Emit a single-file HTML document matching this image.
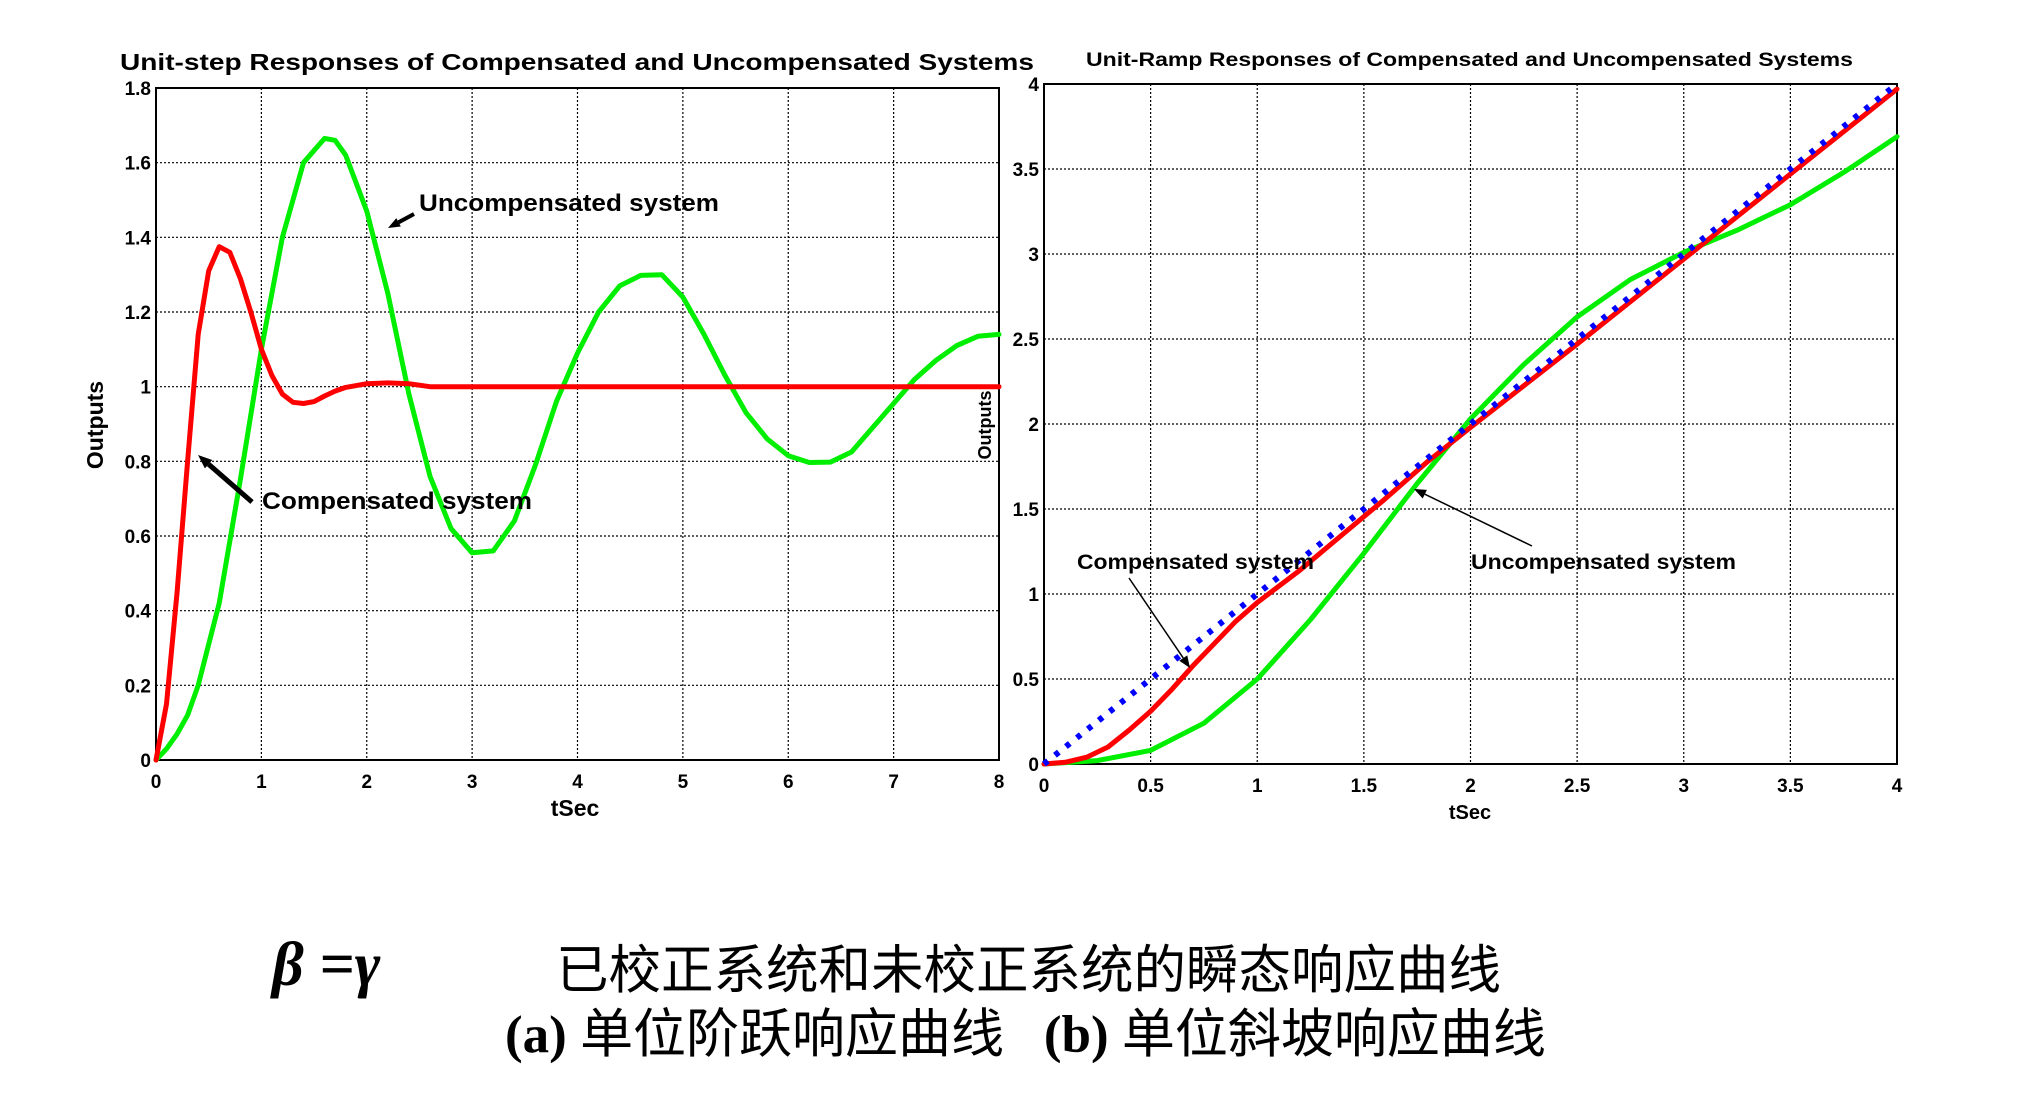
<!DOCTYPE html>
<html><head><meta charset="utf-8"><style>
body{margin:0;background:#fff;}
svg{display:block;font-family:"Liberation Sans",Arial,sans-serif;}
.cap{position:absolute;font-family:"Liberation Serif","Noto Serif CJK SC",serif;font-weight:bold;color:#000;white-space:nowrap;}
.zh{font-family:"Liberation Serif","Noto Sans CJK SC",sans-serif;font-weight:normal;}
</style></head><body>
<div style="position:relative;width:2038px;height:1094px;overflow:hidden">
<svg id="chart" width="2038" height="1094"></svg>
<div class="cap" style="left:272px;top:930px;font-size:62px;font-style:italic;">β =γ</div>
<div class="cap zh" style="left:556px;top:928px;font-size:52.5px;">已校正系统和未校正系统的瞬态响应曲线</div>
<div class="cap" style="left:505px;top:992px;font-size:53px;">(a) <span class="zh">单位阶跃响应曲线</span>&nbsp;&nbsp;&nbsp;(b) <span class="zh">单位斜坡响应曲线</span></div>
</div>
<script>
// Left chart data (unit step)
const stepRedT=[0,0.1,0.2,0.3,0.4,0.5,0.6,0.7,0.8,0.9,1.0,1.1,1.2,1.3,1.4,1.5,1.6,1.7,1.8,2.0,2.2,2.4,2.6,3,4,5,6,7,8];
const stepRedV=[0,0.15,0.45,0.8,1.14,1.31,1.375,1.36,1.29,1.2,1.1,1.03,0.98,0.958,0.955,0.96,0.975,0.988,0.998,1.008,1.01,1.008,1.0,1,1,1,1,1,1];
const stepGreenT=[0,0.1,0.2,0.3,0.4,0.6,0.8,1.0,1.2,1.4,1.6,1.7,1.8,2.0,2.2,2.4,2.6,2.8,3.0,3.2,3.4,3.6,3.8,4.0,4.2,4.4,4.6,4.8,5.0,5.2,5.4,5.6,5.8,6.0,6.2,6.4,6.6,6.8,7.0,7.2,7.4,7.6,7.8,8.0];
const stepGreenV=[0,0.03,0.07,0.12,0.2,0.42,0.75,1.1,1.4,1.6,1.665,1.66,1.62,1.47,1.25,0.98,0.76,0.62,0.555,0.56,0.64,0.79,0.96,1.09,1.2,1.27,1.298,1.3,1.24,1.14,1.03,0.93,0.86,0.815,0.797,0.798,0.825,0.89,0.955,1.02,1.07,1.11,1.135,1.14];
const stepXTicks=[0,1,2,3,4,5,6,7,8];
const stepYTicks=[0,0.2,0.4,0.6,0.8,1,1.2,1.4,1.6,1.8];
// Right chart data (unit ramp)
const rampT=[0,0.25,0.5,0.75,1,1.25,1.5,1.75,2,2.25,2.5,2.75,3,3.25,3.5,3.75,4];
const rampRedT=[0,0.1,0.2,0.3,0.4,0.5,0.6,0.7,0.8,0.9,1.0,1.2,1.4,1.6,1.8,2.0,2.5,3,3.5,4];
const rampRedV=[0,0.01,0.04,0.1,0.2,0.31,0.44,0.58,0.71,0.84,0.95,1.14,1.35,1.56,1.78,1.98,2.47,2.97,3.47,3.97];
const rampGreenV=[0,0.02,0.08,0.24,0.5,0.85,1.24,1.65,2.03,2.35,2.63,2.85,3.01,3.14,3.29,3.48,3.69];
const rampXTicks=[0,0.5,1,1.5,2,2.5,3,3.5,4];
const rampYTicks=[0,0.5,1,1.5,2,2.5,3,3.5,4];

const NS='http://www.w3.org/2000/svg';
const svg=document.getElementById('chart');
function mk(tag,attrs,parent){const e=document.createElementNS(NS,tag);for(const k in attrs)e.setAttribute(k,attrs[k]);(parent||svg).appendChild(e);return e;}
function fmt(v){return String(v);}

function axes(cfg){
  const g=mk('g',{});
  
  
  const sx=v=>cfg.x0+(v-cfg.xmin)/(cfg.xmax-cfg.xmin)*(cfg.x1-cfg.x0);
  const sy=v=>cfg.y1-(v-cfg.ymin)/(cfg.ymax-cfg.ymin)*(cfg.y1-cfg.y0);
  cfg.xt.forEach(t=>{
    const x=sx(t);
    if(t>cfg.xmin&&t<cfg.xmax){const l=mk('line',{x1:x,y1:cfg.y0,x2:x,y2:cfg.y1,stroke:'#000','stroke-width':1.2,'stroke-dasharray':'2,2'},g);}
    const tx=mk('text',{x:x,y:cfg.y1+28,'text-anchor':'middle','font-size':cfg.fs,'font-weight':'bold'},g);tx.textContent=fmt(t);
    
  });
  cfg.yt.forEach(t=>{
    const y=sy(t);
    if(t>cfg.ymin&&t<cfg.ymax){const l=mk('line',{x1:cfg.x0,y1:y,x2:cfg.x1,y2:y,stroke:'#000','stroke-width':1.2,'stroke-dasharray':'2,2'},g);}
    const tx=mk('text',{x:cfg.x0-5,y:y+7,'text-anchor':'end','font-size':cfg.fs,'font-weight':'bold'},g);tx.textContent=fmt(t);
    
  });
  const f=mk('rect',{x:cfg.x0,y:cfg.y0,width:cfg.x1-cfg.x0,height:cfg.y1-cfg.y0,fill:'none',stroke:'#000','stroke-width':2},g);
  
  return {g,sx,sy};
}
function line(a,xs,ys,color,w,dash,name){
  const pts=xs.map((x,i)=>a.sx(x).toFixed(1)+','+a.sy(ys[i]).toFixed(1)).join(' ');
  const p=mk('polyline',{points:pts,fill:'none',stroke:color,'stroke-width':w,'stroke-linejoin':'round','stroke-linecap':dash?'butt':'round'},a.g);
  if(dash)p.setAttribute('stroke-dasharray',dash);
  
}
function text(x,y,s,fs,name,extra){const t=mk('text',Object.assign({x:x,y:y,'font-size':fs,'font-weight':'bold'},extra||{}));t.textContent=s;return t;}
function arrow(x1,y1,x2,y2,w,head,name){
  const g=mk('g',{});
  const ang=Math.atan2(y2-y1,x2-x1);
  const bx=x2-head*Math.cos(ang),by=y2-head*Math.sin(ang);
  mk('line',{x1:x1,y1:y1,x2:bx,y2:by,stroke:'#000','stroke-width':w},g);
  const hw=head*0.4;
  mk('polygon',{points:`${x2},${y2} ${bx+hw*Math.sin(ang)},${by-hw*Math.cos(ang)} ${bx-hw*Math.sin(ang)},${by+hw*Math.cos(ang)}`,fill:'#000'},g);
}

// Left chart
const L=axes({name:'step-chart',x0:156,x1:999,y0:88,y1:760,xmin:0,xmax:8,ymin:0,ymax:1.8,xt:stepXTicks,yt:stepYTicks,fs:19});
line(L,stepGreenT,stepGreenV,'#00ee00',5,null,'uncompensated-step-line');
line(L,stepRedT,stepRedV,'#ff0000',5,null,'compensated-step-line');
text(120,70,'Unit-step Responses of Compensated and Uncompensated Systems',23,'step-chart-title',{textLength:914,lengthAdjust:'spacingAndGlyphs'});
text(575,816,'tSec',23,'step-x-axis-title',{'text-anchor':'middle'});
text(0,0,'Outputs',23,'step-y-axis-title',{'text-anchor':'middle',transform:'translate(103,425) rotate(-90)'});
text(419,211,'Uncompensated system',24,'uncompensated-annotation',{textLength:300,lengthAdjust:'spacingAndGlyphs'});
arrow(414,214,388,228,4,12,'uncompensated-arrow');
text(262,509,'Compensated system',24,'compensated-annotation',{textLength:270,lengthAdjust:'spacingAndGlyphs'});
arrow(252,502,198,455,5,14,'compensated-arrow');

// Right chart
const R=axes({name:'ramp-chart',x0:1044,x1:1897,y0:84,y1:764,xmin:0,xmax:4,ymin:0,ymax:4,xt:rampXTicks,yt:rampYTicks,fs:19});
line(R,rampT,rampGreenV,'#00ee00',5,null,'uncompensated-ramp-line');
line(R,rampRedT,rampRedV,'#ff0000',5,null,'compensated-ramp-line');
line(R,[0,4],[0,4],'#0000ff',6,'5,9','ramp-input-line');
text(1086,66,'Unit-Ramp Responses of Compensated and Uncompensated Systems',19,'ramp-chart-title',{textLength:767,lengthAdjust:'spacingAndGlyphs'});
text(1470,819,'tSec',20,'ramp-x-axis-title',{'text-anchor':'middle'});
text(0,0,'Outputs',18,'ramp-y-axis-title',{'text-anchor':'middle',transform:'translate(991,425) rotate(-90)'});
text(1077,569,'Compensated system',21,'compensated-ramp-annotation',{textLength:237,lengthAdjust:'spacingAndGlyphs'});
arrow(1129,578,1190,668,1.5,12,'compensated-ramp-arrow');
text(1471,569,'Uncompensated system',21,'uncompensated-ramp-annotation',{textLength:265,lengthAdjust:'spacingAndGlyphs'});
arrow(1532,546,1414,489,1.5,12,'uncompensated-ramp-arrow');
</script>
</body></html>
